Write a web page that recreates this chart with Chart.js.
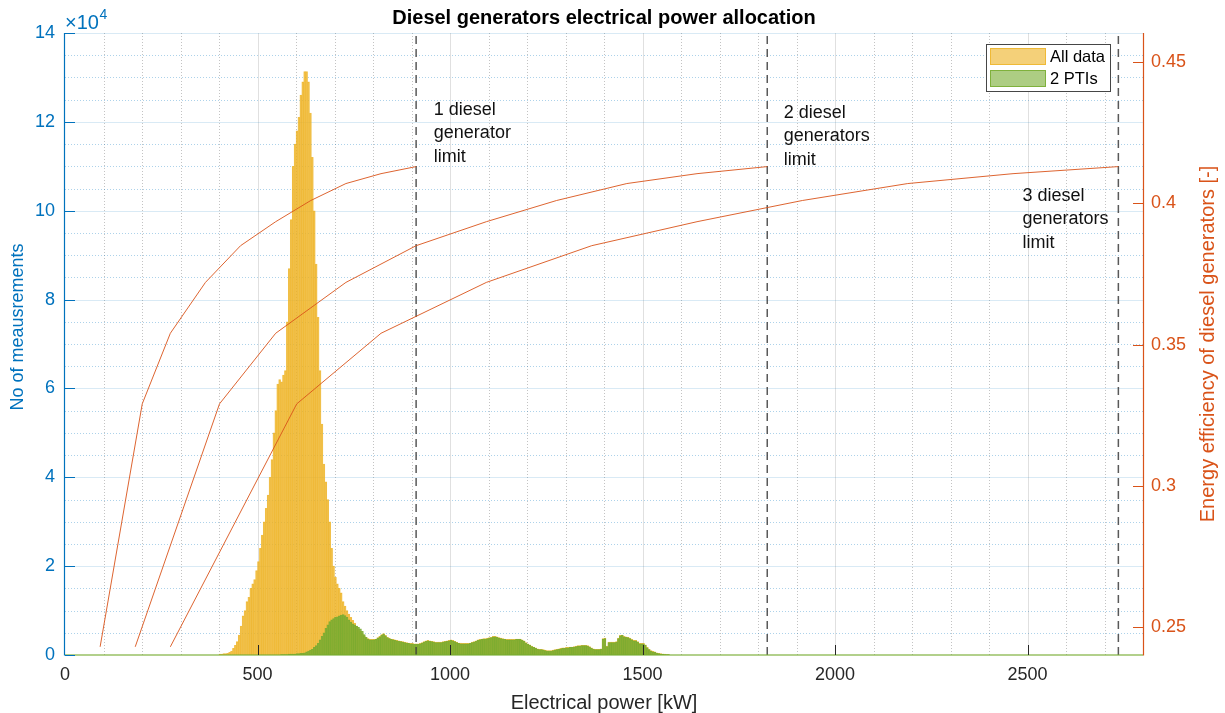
<!DOCTYPE html>
<html><head><meta charset="utf-8">
<script src="https://cdn.jsdelivr.net/npm/chart.js@4"></script>
<style>html,body{margin:0;padding:0;background:#fff}#wrap{width:1225px;height:713px;position:relative}</style>
</head><body><div id="wrap"><canvas id="c"></canvas></div>
<script>
// ---- data ----
const binStartKW = 400;
const binWidthKW = 5;
// counts per 5 kW bin, in units of 10^4 (one row = 100 kW)
const allData = [
 0.02,0.02,0.03,0.03,0.04,0.06,0.09,0.15,0.22,0.30,0.45,0.65,0.88,1.0,1.2,1.3,1.5,1.6,1.7,1.9,
 2.1,2.4,2.7,3.0,3.3,3.6,4.0,4.4,5.0,5.5,6.1,6.2,6.15,6.3,6.4,7.5,8.7,9.8,11.0,11.5,
 11.8,12.1,12.6,12.9,13.13,13.13,12.9,12.2,11.2,10.0,8.8,7.6,6.4,5.2,4.3,3.9,3.5,3.0,2.4,2.0,
 1.75,1.6,1.5,1.4,1.2,1.1,1.0,0.92,0.85,0.78,0.72,0.65,0.58,0.53,0.48,0.43,0.39,0.37,0.35,0.35,
 0.35,0.36,0.39,0.42,0.46,0.48,0.44,0.40,0.38,0.36,0.35,0.34,0.33,0.32,0.31,0.30,0.29,0.28,0.27,0.26,
 0.26,0.25,0.25,0.25,0.26,0.28,0.30,0.32,0.33,0.32,0.31,0.30,0.29,0.29,0.29,0.29,0.30,0.31,0.32,0.33,
 0.34,0.33,0.31,0.29,0.27,0.27,0.26,0.26,0.26,0.26,0.27,0.29,0.30,0.32,0.34,0.35,0.36,0.37,0.37,0.38,
 0.39,0.40,0.42,0.42,0.41,0.39,0.38,0.37,0.36,0.35,0.35,0.35,0.35,0.35,0.36,0.36,0.36,0.34,0.32,0.28,
 0.25,0.23,0.20,0.18,0.16,0.14,0.13,0.13,0.12,0.11,0.10,0.10,0.10,0.11,0.12,0.13,0.14,0.15,0.16,0.16,
 0.17,0.17,0.18,0.18,0.19,0.20,0.21,0.21,0.22,0.22,0.22,0.21,0.19,0.16,0.14,0.13,0.13,0.13,0.14,0.37,
 0.38,0.20,0.29,0.29,0.29,0.29,0.30,0.38,0.44,0.45,0.42,0.41,0.40,0.38,0.35,0.33,0.33,0.30,0.26,0.26,
 0.26,0.23,0.17,0.13,0.10,0.08,0.07,0.05,0.04,0.03,0.02,0.02,0.01,0.01];
const twoPTIs = [
 0,0,0,0,0,0,0,0,0,0,0,0,0,0,0,0,0,0,0,0,
 0,0,0,0,0,0,0,0,0,0,0,0,0.01,0.01,0.01,0.01,0.02,0.02,0.02,0.02,
 0.03,0.03,0.04,0.04,0.05,0.07,0.09,0.11,0.13,0.17,0.21,0.26,0.34,0.42,0.50,0.60,0.68,0.75,0.79,0.82,
 0.85,0.86,0.88,0.90,0.91,0.89,0.85,0.79,0.74,0.70,0.68,0.65,0.62,0.59,0.53,0.46,0.40,0.36,0.34,0.34,
 0.34,0.35,0.38,0.41,0.45,0.47,0.43,0.39,0.37,0.35,0.34,0.33,0.32,0.31,0.30,0.29,0.28,0.27,0.26,0.25,
 0.25,0.24,0.24,0.24,0.25,0.27,0.29,0.31,0.32,0.31,0.30,0.29,0.28,0.28,0.28,0.28,0.29,0.30,0.31,0.32,
 0.33,0.32,0.30,0.28,0.26,0.25,0.25,0.25,0.25,0.25,0.26,0.28,0.29,0.31,0.33,0.34,0.35,0.36,0.36,0.37,
 0.38,0.39,0.41,0.41,0.40,0.38,0.37,0.36,0.35,0.34,0.34,0.34,0.34,0.34,0.35,0.35,0.35,0.33,0.31,0.27,
 0.24,0.22,0.19,0.17,0.15,0.13,0.12,0.12,0.11,0.10,0.09,0.09,0.09,0.10,0.11,0.12,0.13,0.14,0.15,0.15,
 0.16,0.16,0.17,0.17,0.18,0.19,0.20,0.20,0.21,0.21,0.21,0.20,0.18,0.15,0.13,0.12,0.12,0.12,0.13,0.36,
 0.37,0.19,0.28,0.28,0.28,0.28,0.29,0.37,0.43,0.44,0.41,0.40,0.39,0.37,0.34,0.32,0.32,0.29,0.25,0.25,
 0.25,0.22,0.16,0.12,0.09,0.07,0.06,0.04,0.03,0.02,0.02,0.01,0.01,0.01];
const ratedKW = 912;
const generatorCounts = [1,2,3];
const loadFraction = [0.1,0.22,0.3,0.4,0.5,0.6,0.7,0.8,0.9,1.0];
const efficiency   = [0.243,0.329,0.354,0.372,0.385,0.3935,0.401,0.407,0.4105,0.413];
const xTicks = [0,500,1000,1500,2000,2500];
const yTicks = [0,2,4,6,8,10,12,14];
const effTicks = [0.25,0.3,0.35,0.4,0.45];
const limitText = [["1 diesel","generator","limit"],["2 diesel","generators","limit"],["3 diesel","generators","limit"]];
const limitTextKW = [958,1867,2487];
const limitTextCount = [12.27,12.2,10.34];

// ---- styles ----
const FONT = "'Liberation Sans', Arial, Helvetica, sans-serif";
const BLUE = '#0072BD', ORANGE = '#D95319', DARK = '#262626';

const binCenters = allData.map((_, i) => binStartKW + binWidthKW * (i + 0.5));

const datasets = [];
generatorCounts.forEach(n => datasets.push({
  type:'line', yAxisID:'y1', order:0,
  data: loadFraction.map((f, i) => ({x: n * f * ratedKW, y: efficiency[i]})),
  borderColor:'rgba(217,83,25,0.9)', borderWidth:1, pointRadius:0, tension:0
}));
generatorCounts.forEach(n => datasets.push({
  type:'line', yAxisID:'y', order:1,
  data: [{x: n * ratedKW, y: 0}, {x: n * ratedKW, y: 14}],
  borderColor:'rgba(60,60,60,0.85)', borderWidth:1.5, borderDash:[8,5], pointRadius:0
}));
datasets.push({
  type:'bar', label:'2 PTIs', yAxisID:'y', order:2, grouped:false,
  data: twoPTIs.map((v, i) => ({x: binCenters[i], y: v})),
  backgroundColor:'rgba(119,172,48,0.6)', borderColor:'rgba(119,172,48,0.85)', borderWidth:0.5,
  barPercentage:1, categoryPercentage:1
});
datasets.push({
  type:'bar', label:'All data', yAxisID:'y', order:3, grouped:false,
  data: allData.map((v, i) => ({x: binCenters[i], y: v})),
  backgroundColor:'rgba(237,177,32,0.6)', borderColor:'rgba(237,177,32,0.75)', borderWidth:0.5,
  barPercentage:1, categoryPercentage:1
});

function hline(ctx, x1, x2, y){ctx.beginPath();ctx.moveTo(x1,y);ctx.lineTo(x2,y);ctx.stroke();}
function vline(ctx, x, y1, y2){ctx.beginPath();ctx.moveTo(x,y1);ctx.lineTo(x,y2);ctx.stroke();}

const custom = {
  id:'custom',
  beforeDatasetsDraw(chart){
    const {ctx, chartArea:a, scales:{x, y}} = chart;
    ctx.save();
    ctx.lineWidth = 1;
    ctx.setLineDash([1,2]);
    ctx.strokeStyle = 'rgba(38,38,38,0.28)';
    for (let v = 100; v < 2800; v += 100) {
      if (v % 500 === 0) continue;
      vline(ctx, Math.round(x.getPixelForValue(v)) + 0.5, a.top, a.bottom);
    }
    ctx.strokeStyle = 'rgba(0,114,189,0.32)';
    for (let v = 0.5; v < 14; v += 0.5) {
      if (v % 2 === 0) continue;
      hline(ctx, a.left, a.right, Math.round(y.getPixelForValue(v)) + 0.5);
    }
    ctx.setLineDash([]);
    ctx.strokeStyle = 'rgba(38,38,38,0.14)';
    xTicks.forEach(v => { if (v > 0) vline(ctx, Math.round(x.getPixelForValue(v)) + 0.5, a.top, a.bottom); });
    ctx.strokeStyle = 'rgba(0,114,189,0.15)';
    yTicks.forEach(v => { if (v > 0) hline(ctx, a.left, a.right, Math.round(y.getPixelForValue(v)) + 0.5); });
    ctx.restore();
  },
  afterDatasetsDraw(chart){
    const {ctx, chartArea:a, scales:{x, y, y1}} = chart;
    ctx.save();
    ctx.strokeStyle = 'rgba(119,172,48,0.75)'; ctx.lineWidth = 1.5;
    hline(ctx, a.left, a.right, a.bottom);
    ctx.strokeStyle = BLUE; ctx.lineWidth = 1.2;
    vline(ctx, a.left - 0.5, a.top, a.bottom + 0.5);
    ctx.lineWidth = 1;
    yTicks.forEach(v => { const p = Math.round(y.getPixelForValue(v)) + 0.5; hline(ctx, a.left, a.left + 10, p); });
    ctx.strokeStyle = ORANGE; ctx.lineWidth = 1.2;
    vline(ctx, a.right + 0.5, a.top, a.bottom + 0.5);
    ctx.lineWidth = 1;
    effTicks.forEach(v => { const p = Math.round(y1.getPixelForValue(v)) + 0.5; hline(ctx, a.right - 10, a.right, p); });
    ctx.strokeStyle = DARK;
    xTicks.forEach(v => { if (v > 0) vline(ctx, Math.round(x.getPixelForValue(v)) + 0.5, a.bottom - 10, a.bottom); });
    ctx.restore();
  },
  afterDraw(chart){
    const {ctx, chartArea:a, scales:{x, y}} = chart;
    ctx.save();
    ctx.fillStyle = '#000'; ctx.font = 'bold 20px ' + FONT;
    ctx.textAlign = 'center'; ctx.textBaseline = 'middle';
    ctx.fillText('Diesel generators electrical power allocation', (a.left + a.right) / 2, 18);
    ctx.fillStyle = BLUE; ctx.textAlign = 'left';
    ctx.font = '20px ' + FONT;
    ctx.fillText('\u00D710', a.left, 23);
    const w = ctx.measureText('\u00D710').width;
    ctx.font = '14px ' + FONT;
    ctx.fillText('4', a.left + w + 0.5, 15);
    ctx.font = '20px ' + FONT; ctx.textAlign = 'center';
    ctx.fillStyle = DARK;
    ctx.fillText('Electrical power [kW]', (a.left + a.right) / 2, 703);
    ctx.fillStyle = BLUE;
    ctx.font = '18px ' + FONT;
    ctx.save(); ctx.translate(18, 327); ctx.rotate(-Math.PI / 2);
    ctx.fillText('No of meausrements', 0, 0); ctx.restore();
    ctx.fillStyle = ORANGE;
    ctx.font = '20px ' + FONT;
    ctx.save(); ctx.translate(1208, 344); ctx.rotate(-Math.PI / 2);
    ctx.fillText('Energy efficiency of diesel generators [-]', 0, 0); ctx.restore();
    ctx.fillStyle = '#111'; ctx.font = '18px ' + FONT; ctx.textAlign = 'left';
    limitText.forEach((lines, k) => {
      const px = x.getPixelForValue(limitTextKW[k]);
      const py = y.getPixelForValue(limitTextCount[k]);
      lines.forEach((t, i) => ctx.fillText(t, px, py + i * 23.5));
    });
    ctx.fillStyle = '#fff'; ctx.fillRect(986, 44, 125, 48);
    ctx.strokeStyle = 'rgba(38,38,38,0.85)'; ctx.lineWidth = 1;
    ctx.strokeRect(986.5, 44.5, 124, 47);
    const legendSets = chart.data.datasets.filter(d => d.type === 'bar').reverse();
    legendSets.forEach((d, i) => {
      const yy = 48 + i * 22;
      ctx.fillStyle = d.backgroundColor; ctx.fillRect(990, yy, 56, 17);
      ctx.strokeStyle = d.borderColor; ctx.lineWidth = 1; ctx.strokeRect(990.5, yy + 0.5, 55, 16);
      ctx.fillStyle = '#000'; ctx.font = '16.5px ' + FONT; ctx.textBaseline = 'middle';
      ctx.fillText(d.label, 1050, yy + 9);
    });
    ctx.restore();
  }
};

new Chart(document.getElementById('c'), {
  type:'bar',
  data:{datasets},
  options:{
    responsive:true, maintainAspectRatio:false, animation:false,
    layout:{padding:{left:0, right:0, top:33, bottom:0}},
    plugins:{legend:{display:false}, tooltip:{enabled:false}, title:{display:false}},
    scales:{
      x:{type:'linear', min:0, max:2800, offset:false,
         grid:{display:false, drawTicks:false}, border:{display:false},
         afterBuildTicks:s => { s.ticks = xTicks.map(v => ({value:v})); },
         ticks:{color:DARK, font:{family:FONT, size:18}, padding:9, maxRotation:0, autoSkip:false, callback:v => String(v)},
         afterFit:s => { s.height = 58; }},
      y:{type:'linear', position:'left', min:0, max:14,
         grid:{display:false, drawTicks:false}, border:{display:false},
         afterBuildTicks:s => { s.ticks = yTicks.map(v => ({value:v})); },
         ticks:{color:BLUE, font:{family:FONT, size:18}, padding:10, autoSkip:false, callback:v => String(v)},
         afterFit:s => { s.width = 65; }},
      y1:{type:'linear', position:'right', min:0.2401, max:0.4603,
         grid:{display:false, drawTicks:false}, border:{display:false},
         afterBuildTicks:s => { s.ticks = effTicks.map(v => ({value:v})); },
         ticks:{color:ORANGE, font:{family:FONT, size:18}, padding:8, autoSkip:false, callback:v => String(Math.round(v * 100) / 100)},
         afterFit:s => { s.width = 82; }}
    }
  },
  plugins:[custom]
});
</script></body></html>
